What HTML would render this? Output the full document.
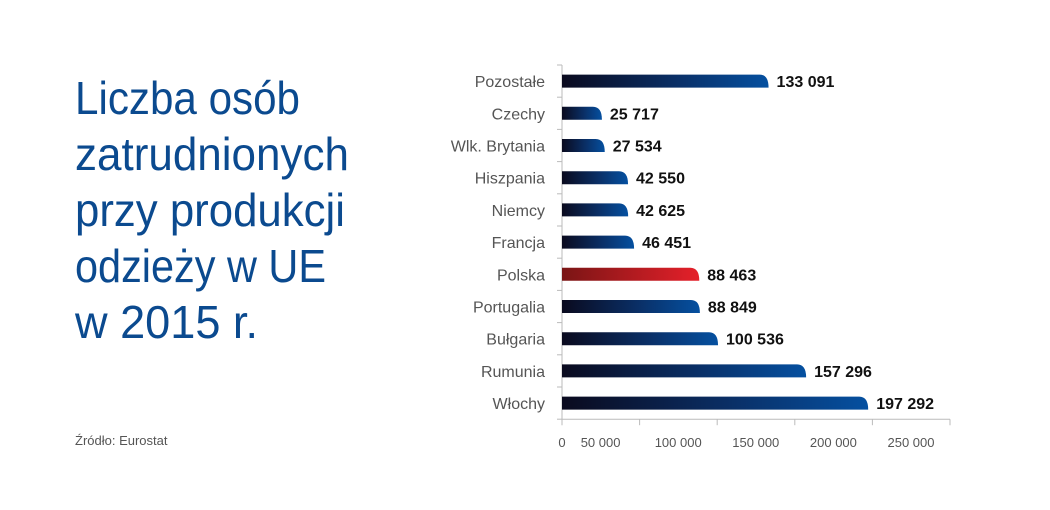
<!DOCTYPE html>
<html><head><meta charset="utf-8"><style>
body{margin:0;background:#fff;}
svg{display:block;font-family:"Liberation Sans",sans-serif;}
</style></head><body>
<svg id="chart" width="1050" height="510">
<defs>
<linearGradient id="gb" x1="0" x2="1"><stop offset="0" stop-color="#0a0a1e"/><stop offset="0.55" stop-color="#0a2f66"/><stop offset="1" stop-color="#0550a0"/></linearGradient>
<linearGradient id="gr" x1="0" x2="1"><stop offset="0" stop-color="#7a1515"/><stop offset="1" stop-color="#e5202a"/></linearGradient>
</defs>
<g fill="#0b4a8f" font-size="46">
<text x="75" y="114" textLength="225" lengthAdjust="spacingAndGlyphs">Liczba osób</text>
<text x="75" y="170" textLength="274" lengthAdjust="spacingAndGlyphs">zatrudnionych</text>
<text x="75" y="226" textLength="270" lengthAdjust="spacingAndGlyphs">przy produkcji</text>
<text x="75" y="282" textLength="251" lengthAdjust="spacingAndGlyphs">odzieży w UE</text>
<text x="75" y="338" textLength="183" lengthAdjust="spacingAndGlyphs">w 2015 r.</text>
</g>
<text x="75" y="445" font-size="13" fill="#555">Źródło: Eurostat</text>
<g id="plot"></g>
</svg>
<script>
const categories=["Pozostałe","Czechy","Wlk. Brytania","Hiszpania","Niemcy","Francja","Polska","Portugalia","Bułgaria","Rumunia","Włochy"];
const values=[133091,25717,27534,42550,42625,46451,88463,88849,100536,157296,197292];
const valueLabels=["133 091","25 717","27 534","42 550","42 625","46 451","88 463","88 849","100 536","157 296","197 292"];
const ticks=[0,50000,100000,150000,200000,250000];
const tickLabels=["0","50 000","100 000","150 000","200 000","250 000"];
const highlight="Polska";
const NS="http://www.w3.org/2000/svg";
const plotG=document.getElementById("plot");
const x0=562,x1=950,yTop=65,rowH=32.2;
const xs=v=>x0+(v-0)/250000*(x1-x0);
const yc=i=>yTop+rowH*(i+0.5);
function mk(t,a){const e=document.createElementNS(NS,t);for(const k in a)e.setAttribute(k,a[k]);plotG.appendChild(e);return e;}
const bottom=yTop+rowH*categories.length;
const ax=mk("line",{x1:x0,y1:yTop,x2:x0,y2:bottom,stroke:"#bbb"});


const xa=mk("line",{x1:x0,y1:bottom,x2:x1,y2:bottom,stroke:"#bbb"});


for(let i=0;i<=categories.length;i++){mk("line",{x1:x0-5,x2:x0,y1:yTop+rowH*i,y2:yTop+rowH*i,stroke:"#bbb"});}
ticks.forEach((t,i)=>{
 mk("line",{x1:xs(t),x2:xs(t),y1:bottom,y2:bottom+6,stroke:"#bbb"});
 const tx=mk("text",{x:i===0?xs(t):xs(t)-39,y:bottom+28,"font-size":"13","fill":"#555","text-anchor":"middle"});
 tx.textContent=tickLabels[i];
 
 
});
categories.forEach((c,i)=>{
 const y=yc(i),h=13,w=xs(values[i])-x0,r=Math.min(9,w/2);
 const l=mk("text",{x:545,y:y+6,"font-size":"16","fill":"#555","text-anchor":"end"});
 l.textContent=c;
 
 
 const yt=y-h/2;
 const p=mk("path",{d:`M${x0},${yt}H${x0+w-r}Q${x0+w},${yt} ${x0+w},${yt+h}H${x0}Z`,fill:c===highlight?"url(#gr)":"url(#gb)"});
 
 
 const v=mk("text",{x:x0+w+8,y:y+6,"font-size":"16","font-weight":"bold","fill":"#111"});
 v.textContent=valueLabels[i];
 
 
});
</script>
</body></html>
